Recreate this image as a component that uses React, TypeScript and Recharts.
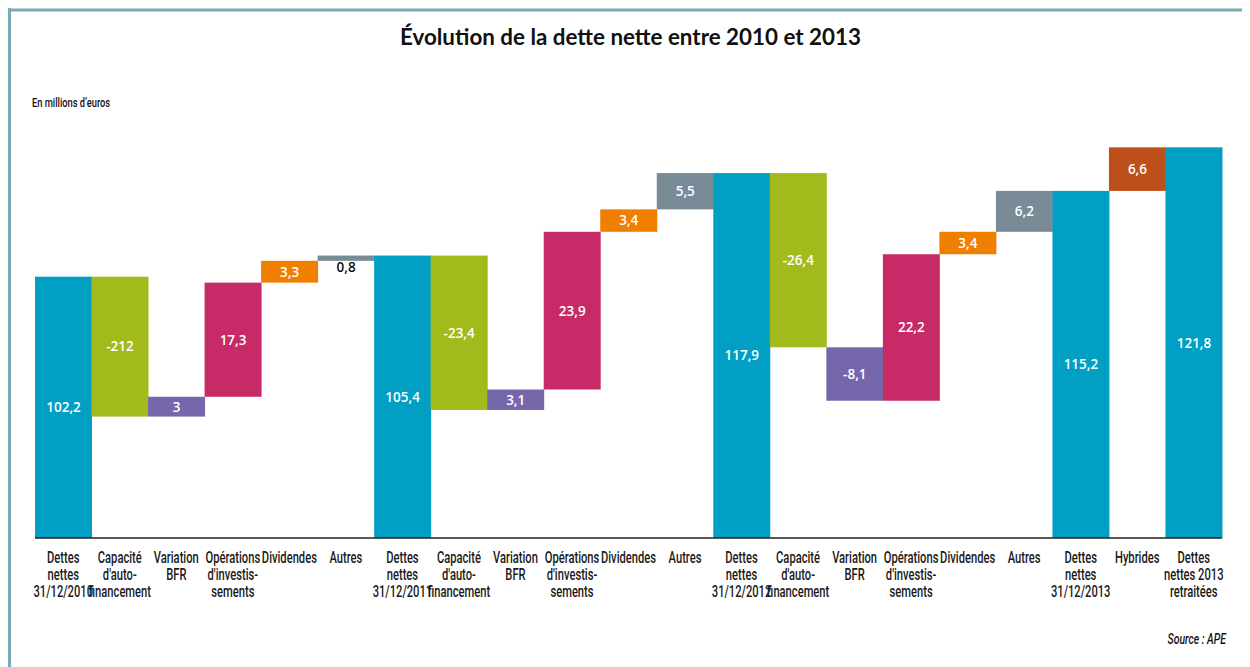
import React from "react";
import { BarChart, Bar, XAxis, YAxis } from "recharts";

// ---- Data ----
const categories: string[] = [
  "Dettes\nnettes\n31/12/2010",
  "Capacité\nd'auto-\nfinancement",
  "Variation\nBFR",
  "Opérations\nd'investis-\nsements",
  "Dividendes",
  "Autres",
  "Dettes\nnettes\n31/12/2011",
  "Capacité\nd'auto-\nfinancement",
  "Variation\nBFR",
  "Opérations\nd'investis-\nsements",
  "Dividendes",
  "Autres",
  "Dettes\nnettes\n31/12/2012",
  "Capacité\nd'auto-\nfinancement",
  "Variation\nBFR",
  "Opérations\nd'investis-\nsements",
  "Dividendes",
  "Autres",
  "Dettes\nnettes\n31/12/2013",
  "Hybrides",
  "Dettes\nnettes 2013\nretraitées",
];

const kinds: string[] = [
  "total", "caf", "bfr", "inv", "div", "autres",
  "total", "caf", "bfr", "inv", "div", "autres",
  "total", "caf", "bfr", "inv", "div", "autres",
  "total", "hyb", "total",
];

const values: number[] = [
  102.2, -21.2, 3, 17.3, 3.3, 0.8,
  105.4, -23.4, 3.1, 23.9, 3.4, 5.5,
  117.9, -26.4, -8.1, 22.2, 3.4, 6.2,
  115.2, 6.6, 121.8,
];

const valueLabels: string[] = [
  "102,2", "-212", "3", "17,3", "3,3", "0,8",
  "105,4", "-23,4", "3,1", "23,9", "3,4", "5,5",
  "117,9", "-26,4", "-8,1", "22,2", "3,4", "6,2",
  "115,2", "6,6", "121,8",
];

// ---- Styles ----
const COLORS: Record<string, string> = {
  total: "#009fc3",
  caf: "#a3ba1c",
  bfr: "#7667ac",
  inv: "#c62a67",
  div: "#f07f00",
  autres: "#7a8b98",
  hyb: "#bd4f1a",
};

const NARROW = "Roboto, 'Noto Sans', sans-serif";
const SQUEEZE = 0.69;
const LABEL_FONT = "'Open Sans', 'Noto Sans', sans-serif";

// waterfall construction: totals are plain values, changes are [low, high] ranges
let running = 0;
const rows = categories.map((name, i) => {
  const v = values[i];
  let range: number | [number, number];
  if (kinds[i] === "total") {
    range = v;
    running = v;
  } else {
    const a = running;
    const b = running + v;
    range = [Math.min(a, b), Math.max(a, b)];
    running = b;
  }
  return { name, range, kind: kinds[i], label: valueLabels[i] };
});

const BarShape = (props: any) => {
  const { x, y, width, height, payload } = props;
  if (width == null || height == null) return null;
  const fill = COLORS[payload.kind];
  const small = height < 10;
  const cx = x + width / 2;
  const cy = small ? y + 12 : y + height / 2;
  return (
    <g>
      <rect x={x} y={y} width={width} height={height} fill={fill} />
      <text
        x={cx}
        y={cy}
        dy="0.36em"
        textAnchor="middle"
        fontFamily={LABEL_FONT}
        fontWeight={600}
        fontSize={13.5}
        fill={small ? "#111" : "#ffffff"}
      >
        {payload.label}
      </text>
    </g>
  );
};

const CategoryTick = (props: any) => {
  const { x, y, payload } = props;
  const lines = String(payload.value).split("\n");
  return (
    <g transform={`translate(${x} ${y}) scale(${SQUEEZE} 1)`}>
      <text textAnchor="middle" fontFamily={NARROW} fontWeight={500} fontSize={16.2} fill="#1a1a1a">
        {lines.map((ln, i) => (
          <tspan key={i} x={0} y={25 + i * 17}>
            {ln}
          </tspan>
        ))}
      </text>
    </g>
  );
};

export default function App() {
  return (
    <div style={{ position: "relative", width: 1242, height: 659, overflow: "hidden", background: "#fff" }}>
      <BarChart
        width={1242}
        height={659}
        data={rows}
        margin={{ top: 107, right: 28, bottom: 49, left: 27 }}
        barCategoryGap={0}
        barGap={0}
      >
        <XAxis
          dataKey="name"
          interval={0}
          tickLine={false}
          tickSize={0}
          tickMargin={0}
          axisLine={{ stroke: "#222", strokeWidth: 1.5 }}
          height={80}
          tick={<CategoryTick />}
        />
        <YAxis
          type="number"
          domain={[62.6, 126.7]}
          allowDataOverflow
          width={0}
          tick={false}
          tickLine={false}
          axisLine={{ stroke: "#222", strokeWidth: 1.5 }}
        />
        <Bar dataKey="range" isAnimationActive={false} shape={<BarShape />} />
      </BarChart>
      <svg
        width={1242}
        height={659}
        style={{ position: "absolute", left: 0, top: 0, pointerEvents: "none" }}
      >
        <text
          x={622.5}
          y={36.5}
          textAnchor="middle"
          fontFamily="Lato, 'Open Sans', sans-serif"
          fontWeight={700}
          fontSize={22}
          fill="#111"
          textLength={461}
          lengthAdjust="spacingAndGlyphs"
        >
          Évolution de la dette nette entre 2010 et 2013
        </text>
        <g transform={`translate(24 99) scale(${SQUEEZE} 1)`}>
          <text x={0} y={0} fontFamily={NARROW} fontWeight={500} fontSize={13.5} fill="#111">
            En millions d’euros
          </text>
        </g>
        <g transform={`translate(1218 636) scale(0.72 1)`}>
          <text
            x={0}
            y={0}
            textAnchor="end"
            fontFamily={NARROW}
            fontStyle="italic"
            fontWeight={500}
            fontSize={14.5}
            fill="#111"
          >
            Source : APE
          </text>
        </g>
        <line x1={0} y1={2} x2={1242} y2={2} stroke="#7aaab3" strokeWidth={3} />
        <line x1={1.5} y1={0} x2={1.5} y2={659} stroke="#7aaab3" strokeWidth={3} />
      </svg>
    </div>
  );
}
